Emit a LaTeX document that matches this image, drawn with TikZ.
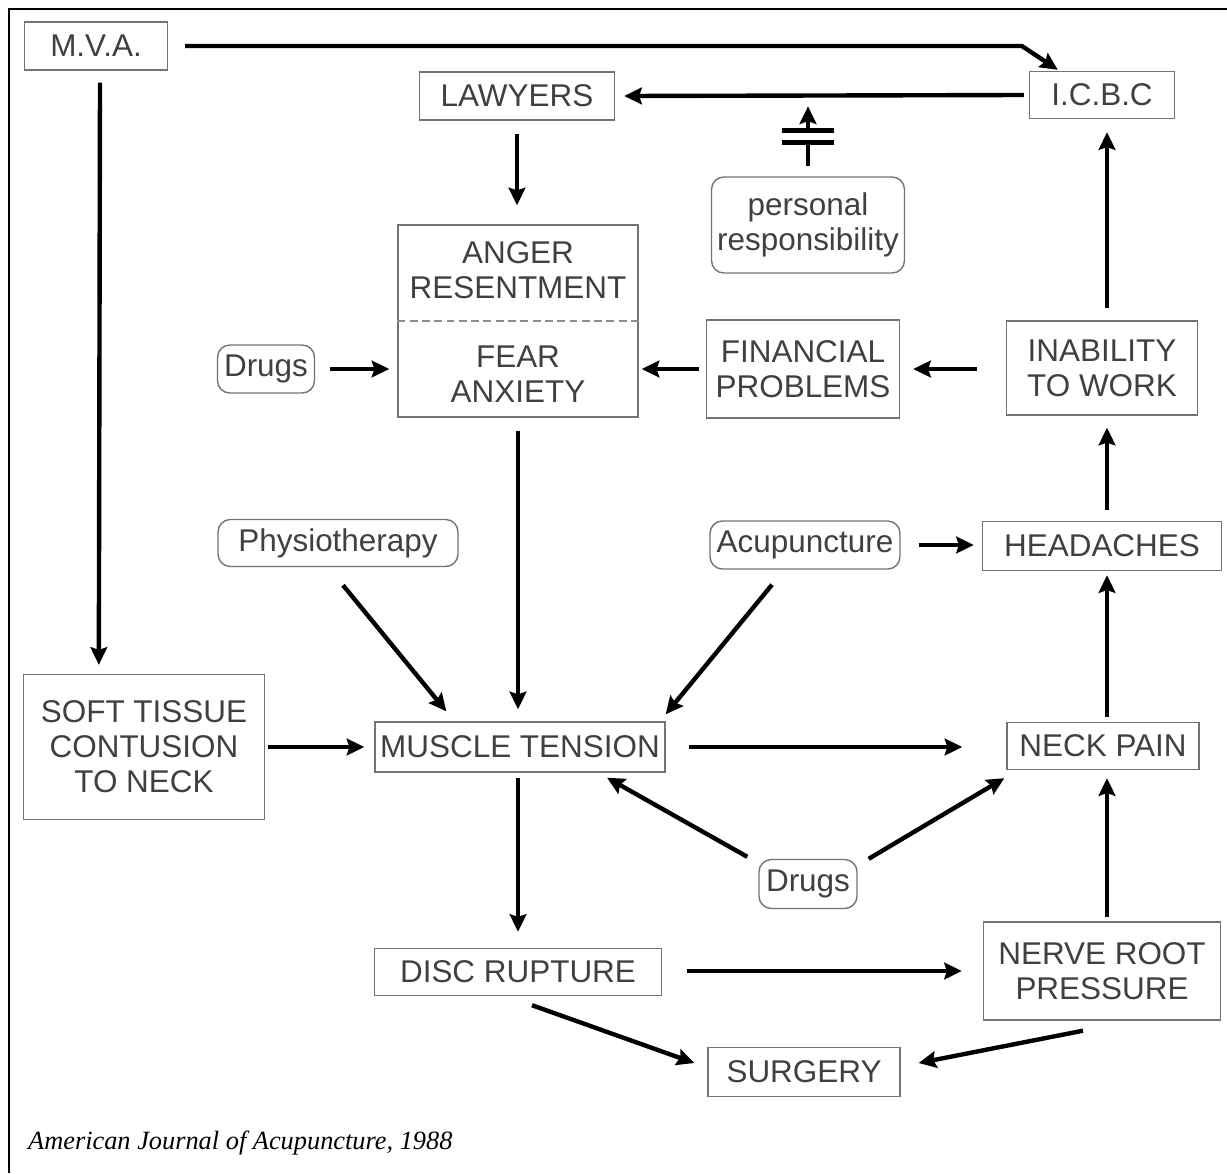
\documentclass[tikz,border=0pt]{standalone}
\usepackage{fontspec}
\setmainfont{Liberation Sans}
\newfontfamily\capfont{Liberation Serif}
\usetikzlibrary{arrows.meta,calc}
\begin{document}
\begin{tikzpicture}[x=0.02cm, y=-0.02cm,
  box/.style={draw=black!55, line width=0.8pt, align=center, inner sep=0pt, text=black!75,
    font=\fontsize{17.9}{20}\selectfont},
  softbox/.style={box, rounded corners=7pt},
  arr/.style={line width=2.5pt, -{Stealth[length=10pt, width=9.5pt, inset=1.5pt]}}]
\useasboundingbox (0,0) rectangle (1227,1173);
\draw [line width=1.6pt] (9,1173) -- (9,9) -- (1227,9);
\node [box, minimum width=2.86cm, minimum height=0.96cm] (mva) at (96,46) {M.V.A.};
\node [box, minimum width=2.90cm, minimum height=0.94cm] (icbc) at (1102,95) {I.C.B.C};
\node [box, minimum width=3.90cm, minimum height=0.96cm] (lawyers) at (517,96) {LAWYERS};
\node [softbox, minimum width=3.86cm, minimum height=1.92cm] (resp) at (808,225) {personal\\responsibility};
\node [box, minimum width=4.80cm, minimum height=3.84cm] (emo) at (518,321) {};
\node [text=black!75, align=center, font=\fontsize{17.9}{20}\selectfont] (anger) at (518,270) {ANGER\\RESENTMENT};
\node [text=black!75, align=center, font=\fontsize{17.9}{20}\selectfont] (fear) at (518,374) {FEAR\\ANXIETY};
\draw [black!45, line width=0.8pt, dash pattern=on 4.5pt off 2.5pt] (emo.west) -- (emo.east);
\node [softbox, minimum width=1.94cm, minimum height=0.96cm] (drugsa) at (266,369) {Drugs};
\node [box, minimum width=3.86cm, minimum height=1.96cm] (money) at (803,369) {FINANCIAL\\PROBLEMS};
\node [box, minimum width=3.82cm, minimum height=1.88cm] (work) at (1102,368) {INABILITY\\TO WORK};
\node [softbox, minimum width=4.80cm, minimum height=0.94cm] (physio) at (338,543) {Physiotherapy};
\node [softbox, minimum width=3.80cm, minimum height=0.96cm] (acu) at (805,545) {Acupuncture};
\node [box, minimum width=4.78cm, minimum height=0.98cm] (head) at (1102,546) {HEADACHES};
\node [box, minimum width=4.82cm, minimum height=2.90cm] (soft) at (144,747) {SOFT TISSUE\\CONTUSION\\TO NECK};
\node [box, minimum width=5.80cm, minimum height=1.00cm] (muscle) at (520,747) {MUSCLE TENSION};
\node [box, minimum width=3.84cm, minimum height=0.94cm] (neck) at (1103,746) {NECK PAIN};
\node [softbox, minimum width=1.96cm, minimum height=0.98cm] (drugsb) at (808,884) {Drugs};
\node [box, minimum width=5.74cm, minimum height=0.94cm] (disc) at (518,972) {DISC RUPTURE};
\node [box, minimum width=4.74cm, minimum height=1.96cm] (nerve) at (1102,971) {NERVE ROOT\\PRESSURE};
\node [box, minimum width=3.84cm, minimum height=0.98cm] (surgery) at (804,1072) {SURGERY};
\node [anchor=base west, font=\capfont\itshape\fontsize{15}{18}\selectfont] (source) at (22,1149) {American Journal of Acupuncture, 1988};
% arrows
\coordinate (bend) at ($(mva.east -| icbc.north west)+(-7,0)$);
\draw [arr] ($(mva.east)+(17,0)$) -- (bend) -- ($(icbc.north west)+(29,-1)$);
\draw [arr] ($(icbc.west)+(-5,0)$) -- ($(lawyers.east)+(9,0)$);
\draw [arr] ($(lawyers.south)+(0,13)$) -- ($(emo.north)+(-1,-19)$);
\draw [arr] ($(drugsa.east)+(15,0)$) -- ($(emo.west)+(-8,48)$);
\draw [arr] ($(money.west)+(-7,0)$) -- ($(emo.east)+(3,48)$);
\draw [arr] ($(work.west)+(-29,1)$) -- ($(money.east)+(13,0)$);
\draw [arr] ($(work.north)+(5,-12)$) -- ($(icbc.south)+(5,13)$);
\draw [arr] ($(head.north)+(5,-11)$) -- ($(work.south)+(5,12)$);
\draw [arr] ($(acu.east)+(18,0)$) -- ($(head.west)+(-8,-1)$);
\draw [arr] ($(soft.east)+(3,0)$) -- ($(muscle.west)+(-10,0)$);
\draw [arr] ($(emo.south)+(0,13)$) -- ($(muscle.north)+(-2,-12)$);
\draw [arr] ($(physio.south)+(5,18)$) -- ($(muscle.north west)+(72,-10)$);
\draw [arr] ($(acu.south)+(-33,15)$) -- ($(muscle.north east)+(0,-7)$);
\draw [arr] ($(muscle.east)+(23,0)$) -- ($(neck.west)+(-44,1)$);
\draw [arr] ($(neck.north)+(4,-5)$) -- ($(head.south)+(5,4)$);
\draw [arr] ($(drugsb.north west)+(-11,-2)$) -- ($(muscle.south)+(87,5)$);
\draw [arr] ($(drugsb.north east)+(11,0)$) -- ($(neck.south west)+(-2,8)$);
\draw [arr] ($(muscle.south)+(-2,5)$) -- ($(disc.north)+(0,-16)$);
\draw [arr] ($(disc.east)+(25,-1)$) -- ($(nerve.west)+(-21,0)$);
\draw [arr] ($(nerve.north)+(5,-4)$) -- ($(neck.south)+(4,8)$);
\draw [arr] ($(disc.south)+(14,9)$) -- ($(surgery.west)+(-13,-9)$);
\draw [arr] ($(nerve.south)+(-19,10)$) -- ($(surgery.east)+(18,-9)$);
\draw [arr] ($(mva.south)+(4,12)$) -- ($(soft.north west)+(76,-9)$);
% the blocked arrow over personal responsibility
\draw [line width=2.5pt] ($(resp.north)+(0,-10)$) -- ($(resp.north)+(0,-34)$);
\draw [line width=2.5pt] ($(resp.north)+(-26,-34)$) -- ($(resp.north)+(26,-34)$);
\draw [line width=2.5pt] ($(resp.north)+(-26,-46)$) -- ($(resp.north)+(26,-46)$);
\draw [arr] ($(resp.north)+(0,-46)$) -- ($(resp.north)+(0,-70)$);
\end{tikzpicture}
\end{document}
